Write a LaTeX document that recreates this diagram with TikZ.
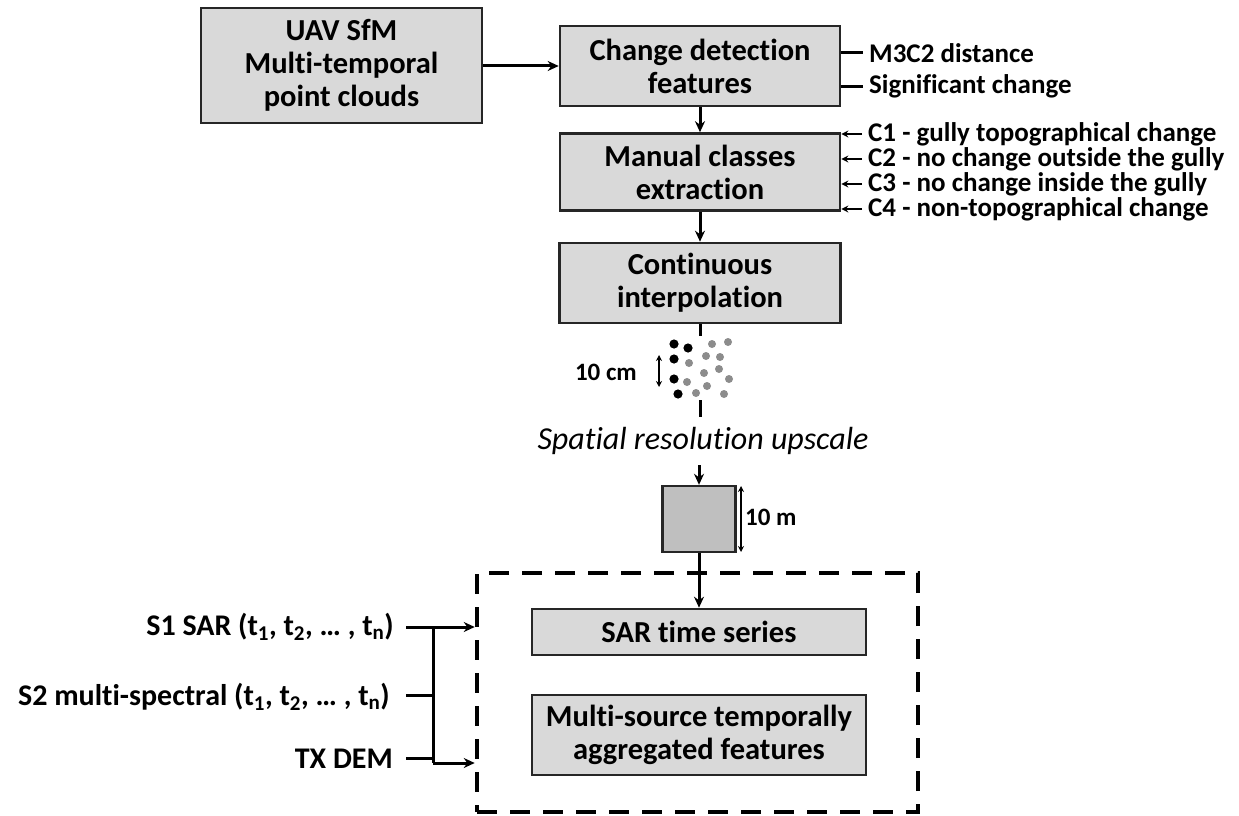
\documentclass[tikz,border=0pt]{standalone}
\usepackage{fontspec}
\setmainfont{Carlito}[RawFeature={-liga;-clig;-calt;-dlig}]
\usetikzlibrary{arrows.meta}
\definecolor{boxgray}{HTML}{D9D9D9}
\definecolor{sqgray}{HTML}{BFBFBF}
\definecolor{dotgray}{HTML}{8C8C8C}
\newcommand\tnl{t\kern0pt i}
\newcommand\fnl{f\kern0pt i}
\begin{document}
\begin{tikzpicture}[x=1pt,y=-1pt,
  box/.style={draw=black!85, line width=2.6pt, fill=boxgray, align=center,
    font=\bfseries\fontsize{30.5}{33}\selectfont, inner sep=0pt},
  lbl/.style={font=\bfseries\fontsize{27}{30}\selectfont, inner sep=0pt},
  inlbl/.style={font=\bfseries\fontsize{30}{33}\selectfont, inner sep=0pt},
  arr/.style={line width=3pt, -{Stealth[length=11pt,width=10pt]}},
  sarr/.style={line width=2pt, -{Stealth[length=7pt,width=7pt]}},
  dim/.style={line width=1.8pt, {Stealth[length=6pt,width=6pt]}-{Stealth[length=6pt,width=6pt]}},
  ln/.style={line width=3pt},
  bdot/.style={fill=black},
  gdot/.style={fill=dotgray}]
\useasboundingbox (0,0) rectangle (1239,816);

% main boxes
\node[box, minimum width=281pt, minimum height=115pt] (uav) at (341.5,65.5) {UAV SfM\\Mul\tnl-temporal\\point clouds};
\node[box, minimum width=280pt, minimum height=80pt] (chg) at (700,66) {Change detection\\features};
\node[box, minimum width=280pt, minimum height=77pt] (man) at (700,172) {Manual classes\\extrac\tnl on};
\node[box, minimum width=281pt, minimum height=80pt] (cont) at (700,283) {Con\tnl nuous\\interpola\tnl on};

\draw[arr] (uav.east |- chg.west) -- (chg.west);
\draw[arr] (chg.south) -- (man.north);
\draw[arr] (man.south) -- (cont.north);

% change detection features labels
\node[lbl, anchor=west] (m3) at (869,53) {M3C2 distance};
\node[lbl, anchor=west] (sig) at (869,86) {Signi\fnl cant change};
\draw[ln] (chg.east |- m3.west) -- ++(22,0);
\draw[ln] (chg.east |- sig.west) -- ++(22,0);

% classes
\node[lbl, anchor=west] (c1) at (868,134) {C1 - gully topographical change};
\node[lbl, anchor=west] (c2) at (868,159) {C2 - no change outside the gully};
\node[lbl, anchor=west] (c3) at (868,184) {C3 - no change inside the gully};
\node[lbl, anchor=west] (c4) at (868,209) {C4 - non-topographical change};
\foreach \c in {c1,c2,c3,c4}
  \draw[sarr] ([xshift=-6pt]\c.west) -- (man.east |- \c.west);

% point cloud
\coordinate (t1a) at (cont.south);
\draw[ln] (t1a) -- ++(0,12);
\foreach \p in {(674,344),(688,348),(674,359),(674,379),(678,394)}
  \fill[bdot] \p circle (4.6);
\foreach \p in {(712,344),(728,342),(706,356),(720,357),(689,363),(719,369),(704,373),(729,379),(687,382),(707,386),(696,393),(724,394)}
  \fill[gdot] \p circle (4);
\coordinate (d1) at (659,355);
\coordinate (d2) at (659,387);
\draw[dim] (d1) -- (d2);
\node[font=\bfseries\fontsize{25}{28}\selectfont, anchor=east, inner sep=0pt] (cm) at (637,372) {10 cm};
\coordinate (t2a) at (700,400);
\coordinate (t2b) at (700,417);
\draw[ln] (t2a) -- (t2b);

\node[font=\itshape\fontsize{32}{36}\selectfont, inner sep=0pt] (spat) at (703,441) {Spa\tnl al resolu\tnl on upscale};
\coordinate (sa) at (699,465);

% square
\node[draw=black!85, line width=2.4pt, fill=sqgray, minimum width=73pt, minimum height=66pt, inner sep=0pt] (sq) at (699,519) {};
\draw[arr] (sa) -- (sq.north);
\coordinate (e1) at (741,486);
\coordinate (e2) at (741,552);
\draw[dim] (e1) -- (e2);
\node[font=\bfseries\fontsize{25}{28}\selectfont, anchor=west, inner sep=0pt] (m10) at (745,517) {10 m};

% dashed group
\node[draw, line width=4.5pt, dash pattern=on 20pt off 13pt, minimum width=441pt, minimum height=239pt, inner sep=0pt] (grp) at (697.5,692.5) {};
\node[box, minimum width=334pt, minimum height=46pt] (sar) at (699,632) {SAR \tnl me series};
\node[box, minimum width=334pt, minimum height=80pt] (mult) at (699,735) {Mul\tnl-source temporally\\aggregated features};
\draw[arr] (sq.south) -- (sar.north);

% inputs
\node[inlbl, anchor=east] (s1) at (394,627) {S1 SAR (t\textsubscript{1}, t\textsubscript{2}, … , t\textsubscript{n})};
\node[inlbl, anchor=east] (s2) at (390,697) {S2 mul\tnl-spectral (t\textsubscript{1}, t\textsubscript{2}, … , t\textsubscript{n})};
\node[inlbl, anchor=east] (tx) at (393,759) {TX DEM};
\coordinate (i1) at (406,627);
\coordinate (i2) at (406,695);
\coordinate (i3) at (406,758);
\coordinate (b1) at (433,627);
\coordinate (b2) at (433,695);
\coordinate (b3) at (433,758);
\coordinate (b4) at (433,763);
\draw[arr] (i1) -- (grp.west |- i1);
\draw[ln] (b1) -- (b4);
\draw[ln] (i2) -- (b2);
\draw[ln] (i3) -- (b3);
\draw[arr] (b4) -- (grp.west |- b4);
\end{tikzpicture}
\end{document}
